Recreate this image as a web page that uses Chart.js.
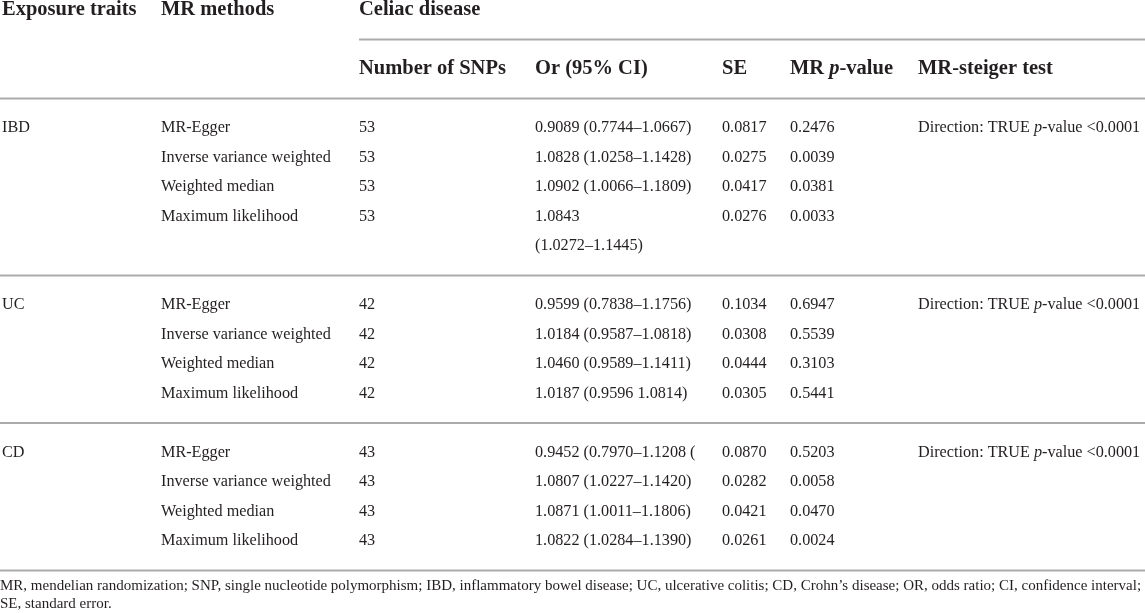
<!DOCTYPE html>
<html>
<head>
<meta charset="utf-8">
<script src="https://cdn.jsdelivr.net/npm/chart.js@4"></script>
<style>
  body { margin: 0; background: #fff; }
  #wrap { width: 1145px; height: 613px; }
</style>
</head>
<body>
<div id="wrap"><canvas id="tbl"></canvas></div>
<script>
// table content
const exposures = ['IBD', 'UC', 'CD'];
const methods = ['MR-Egger', 'Inverse variance weighted', 'Weighted median', 'Maximum likelihood'];
const nSnps = [53, 42, 43];
const orCI = [
  ['0.9089 (0.7744–1.0667)', '1.0828 (1.0258–1.1428)', '1.0902 (1.0066–1.1809)', '1.0843\n(1.0272–1.1445)'],
  ['0.9599 (0.7838–1.1756)', '1.0184 (0.9587–1.0818)', '1.0460 (0.9589–1.1411)', '1.0187 (0.9596 1.0814)'],
  ['0.9452 (0.7970–1.1208 (', '1.0807 (1.0227–1.1420)', '1.0871 (1.0011–1.1806)', '1.0822 (1.0284–1.1390)']
];
const seVals = [
  [0.0817, 0.0275, 0.0417, 0.0276],
  [0.1034, 0.0308, 0.0444, 0.0305],
  [0.0870, 0.0282, 0.0421, 0.0261]
];
const pVals = [
  [0.2476, 0.0039, 0.0381, 0.0033],
  [0.6947, 0.5539, 0.3103, 0.5441],
  [0.5203, 0.0058, 0.0470, 0.0024]
];
const steiger = ['Direction: TRUE *p*-value <0.0001', 'Direction: TRUE *p*-value <0.0001', 'Direction: TRUE *p*-value <0.0001'];
const header1 = ['Exposure traits', 'MR methods', 'Celiac disease'];
const header2 = ['Number of SNPs', 'Or (95% CI)', 'SE', 'MR *p*-value', 'MR-steiger test'];
const footnote = [
  'MR, mendelian randomization; SNP, single nucleotide polymorphism; IBD, inflammatory bowel disease; UC, ulcerative colitis; CD, Crohn’s disease; OR, odds ratio; CI, confidence interval;',
  'SE, standard error.'
];

// layout (not data)
const COL_X = [2, 161, 359, 535, 722, 790, 918];
const FONT = '"Liberation Serif", "Times New Roman", serif';
const TXT = '#231f20';
const RULE = '#ababab';

// row slots, top to bottom
const slots = ['h1', 'r1', 'h2', 'r2'];
exposures.forEach(function(e, g) {
  methods.forEach(function(m, i) { slots.push(e + '-' + i); });
  if (g === 0) slots.push(e + '-c');
  slots.push('r' + (g + 3));
});

// one dataset per column
const cols = [[], [], [], [], [], [], []];
header1.forEach(function(t, i) { cols[i].push({ y: 'h1', text: t, bold: true }); });
header2.forEach(function(t, i) { cols[i + 2].push({ y: 'h2', text: t, bold: true }); });
exposures.forEach(function(e, g) {
  cols[0].push({ y: e + '-0', text: e });
  cols[6].push({ y: e + '-0', text: steiger[g] });
  methods.forEach(function(m, i) {
    const key = e + '-' + i;
    cols[1].push({ y: key, text: m });
    cols[2].push({ y: key, text: String(nSnps[g]) });
    cols[3].push({ y: key, text: orCI[g][i] });
    cols[4].push({ y: key, text: seVals[g][i].toFixed(4) });
    cols[5].push({ y: key, text: pVals[g][i].toFixed(4) });
  });
});
const datasets = cols.map(function(c, i) {
  return {
    label: 'col' + i,
    data: c.map(function(d) { return Object.assign({ x: COL_X[i] }, d); }),
    pointRadius: 0,
    pointHoverRadius: 0
  };
});

function drawRich(ctx, str, x, y, size, bold) {
  const parts = str.split('*');
  let cx = x;
  parts.forEach(function(p, k) {
    const ital = k % 2 === 1;
    ctx.font = (ital ? 'italic ' : '') + (bold ? 'bold ' : '') + size + 'px ' + FONT;
    ctx.fillText(p, cx, y);
    cx += ctx.measureText(p).width;
  });
}

const tablePlugin = {
  id: 'tablePlugin',
  beforeDatasetsDraw: function(chart) {
    const ctx = chart.ctx;
    const xs = chart.scales.x, ys = chart.scales.y;
    ctx.save();
    ctx.strokeStyle = RULE;
    ctx.lineWidth = 1.8;
    slots.forEach(function(s, i) {
      if (s.charAt(0) !== 'r') return;
      const y = ys.getPixelForValue(i);
      const x0 = s === 'r1' ? xs.getPixelForValue(COL_X[2]) : chart.chartArea.left;
      ctx.beginPath();
      ctx.moveTo(x0, y);
      ctx.lineTo(chart.chartArea.right, y);
      ctx.stroke();
    });
    ctx.restore();
  },
  afterDatasetsDraw: function(chart) {
    const ctx = chart.ctx;
    const ys = chart.scales.y;
    const step = ys.getPixelForValue(1) - ys.getPixelForValue(0);
    ctx.save();
    ctx.fillStyle = TXT;
    ctx.textBaseline = 'middle';
    ctx.textAlign = 'left';
    chart.data.datasets.forEach(function(ds, di) {
      const meta = chart.getDatasetMeta(di);
      meta.data.forEach(function(pt, j) {
        const d = ds.data[j];
        d.text.split('\n').forEach(function(l, k) {
          drawRich(ctx, l, pt.x, pt.y + k * step, d.bold ? 20.5 : 16.2, d.bold);
        });
      });
    });
    ctx.restore();
  }
};

new Chart(document.getElementById('tbl'), {
  type: 'scatter',
  data: { datasets: datasets },
  options: {
    responsive: true,
    maintainAspectRatio: false,
    animation: false,
    events: [],
    layout: { padding: { top: 10, left: 0, right: 0, bottom: 0 } },
    scales: {
      x: { type: 'linear', min: 0, max: 1145, display: false },
      y: { type: 'category', labels: slots, offset: false, display: false }
    },
    plugins: {
      legend: { display: false },
      tooltip: { enabled: false },
      title: {
        display: true,
        position: 'bottom',
        align: 'start',
        text: footnote,
        color: TXT,
        font: { family: FONT, size: 15, weight: 'normal', lineHeight: 1.2 },
        padding: { top: 6.5, bottom: 0 }
      }
    }
  },
  plugins: [tablePlugin]
});
</script>
</body>
</html>
